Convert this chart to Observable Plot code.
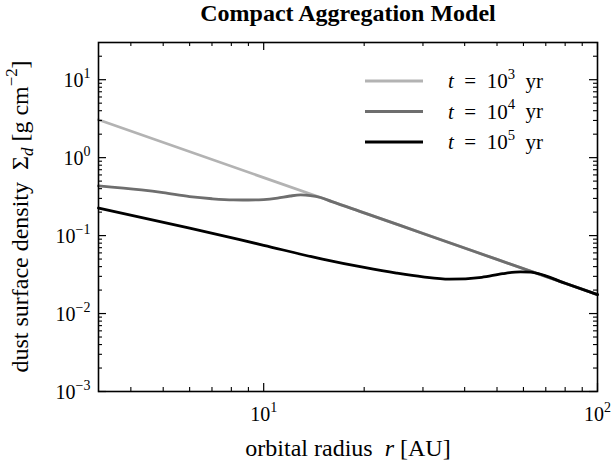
<!DOCTYPE html>
<html><head><meta charset="utf-8">
<script src="https://cdn.jsdelivr.net/npm/d3@7"></script>
<script src="https://cdn.jsdelivr.net/npm/@observablehq/plot@0.6"></script>
<style>
body{margin:0;background:#fff} svg{display:block}
svg, svg text, svg tspan { font-family: "Liberation Serif", "DejaVu Serif", serif !important; white-space: pre; }
</style>
</head><body><div id="chart"></div>
<script>
// ---- text ----
const title = "Compact Aggregation Model";
const xLabel = "orbital radius  $r$ [AU]";
const yLabel = "dust surface density  Σ_{$d$} [g cm^{−2}]";
const seriesNames = ["$t$  =  10^{3}  yr", "$t$  =  10^{4}  yr", "$t$  =  10^{5}  yr"];
const seriesColors = ["#b3b3b3", "#6e6e6e", "#000000"];

// ---- ticks ----
const xMajor = [10, 100];
const xTickLabels = ["10^{1}", "10^{2}"];
const xMinor = [4, 5, 6, 7, 8, 9, 20, 30, 40, 50, 60, 70, 80, 90];
const yMajor = [1e-3, 1e-2, 1e-1, 1, 10];
const yTickLabels = ["10^{−3}", "10^{−2}", "10^{−1}", "10^{0}", "10^{1}"];
const yMinor = [0.002, 0.003, 0.004, 0.005, 0.006, 0.007, 0.008, 0.009,
  0.02, 0.03, 0.04, 0.05, 0.06, 0.07, 0.08, 0.09,
  0.2, 0.3, 0.4, 0.5, 0.6, 0.7, 0.8, 0.9,
  2, 3, 4, 5, 6, 7, 8, 9, 20];

// ---- data ----
const r1 = [3.2, 10, 20, 50, 100];
const s1 = [3.06, 0.555, 0.196, 0.0495, 0.0175];
const r2 = [3.2, 4.3, 5.0, 6.0, 7.0, 8.1, 9.0, 10, 11, 12, 12.9, 13.8, 14.8, 16, 20, 30, 50, 100];
const s2 = [0.434, 0.385, 0.355, 0.316, 0.297, 0.287, 0.286, 0.29, 0.303, 0.322, 0.332, 0.326, 0.308, 0.273, 0.196, 0.1065, 0.0495, 0.0175];
const r3 = [3.2, 6, 10, 15, 20, 25, 30, 36, 45, 52, 58.8, 63, 66, 80, 100];
const s3 = [0.226, 0.125, 0.075, 0.05, 0.039, 0.033, 0.0295, 0.0276, 0.0292, 0.0325, 0.0342, 0.034, 0.0328, 0.0245, 0.0175];

const rows = [
  ...r1.map((r, i) => ({series: seriesNames[0], r, s: s1[i]})),
  ...r2.map((r, i) => ({series: seriesNames[1], r, s: s2[i]})),
  ...r3.map((r, i) => ({series: seriesNames[2], r, s: s3[i]}))
];

const W = 613, H = 466, mL = 98, mR = 16, mT = 42, mB = 75;
const FW = W - mL - mR, FH = H - mT - mB;
const MAJ = 8, MIN = 4;

const svg = Plot.plot({
  width: W, height: H,
  marginLeft: mL, marginRight: mR, marginTop: mT, marginBottom: mB,
  style: {fontSize: "20px", background: "white", color: "black"},
  x: {type: "log", domain: [3.2, 100], axis: null},
  y: {type: "log", domain: [1e-3, 30], axis: null},
  color: {domain: seriesNames, range: seriesColors},
  marks: [
    Plot.line(rows, {x: "r", y: "s", z: "series", stroke: "series", strokeWidth: 2.8, curve: "monotone-x"}),
    // ticks (inward, all four sides)
    Plot.tickX(xMajor, {x: d => d, insetTop: FH - MAJ, strokeWidth: 1.2}),
    Plot.tickX(xMajor, {x: d => d, insetBottom: FH - MAJ, strokeWidth: 1.2}),
    Plot.tickX(xMinor, {x: d => d, insetTop: FH - MIN, strokeWidth: 1.1}),
    Plot.tickX(xMinor, {x: d => d, insetBottom: FH - MIN, strokeWidth: 1.1}),
    Plot.tickY(yMajor, {y: d => d, insetRight: FW - MAJ, strokeWidth: 1.2}),
    Plot.tickY(yMajor, {y: d => d, insetLeft: FW - MAJ, strokeWidth: 1.2}),
    Plot.tickY(yMinor, {y: d => d, insetRight: FW - MIN, strokeWidth: 1.1}),
    Plot.tickY(yMinor, {y: d => d, insetLeft: FW - MIN, strokeWidth: 1.1}),
    Plot.frame({stroke: "black", strokeWidth: 1.6}),
    // tick labels
    Plot.text(xMajor, {x: d => d, text: (d, i) => xTickLabels[i], frameAnchor: "bottom", dy: 29, lineAnchor: "bottom", fontSize: 20}),
    Plot.text(yMajor, {y: d => d, text: (d, i) => yTickLabels[i], frameAnchor: "left", dx: -8, dy: 7, textAnchor: "end", lineAnchor: "bottom", fontSize: 20}),
    // titles
    Plot.text([title], {text: d => d, frameAnchor: "top", dy: -22, lineAnchor: "bottom", fontSize: 24, fontWeight: "bold"}),
    Plot.text([xLabel], {text: d => d, frameAnchor: "bottom", dy: 64, lineAnchor: "bottom", fontSize: 24})
  ]
});

// rich text: $..$ italic, ^{..} superscript, _{..} subscript
function parse(str) {
  const segs = []; let italic = false, buf = "", i = 0;
  const flush = () => { if (buf) segs.push({text: buf, mode: "n", italic}); buf = ""; };
  while (i < str.length) {
    const c = str[i];
    if (c === "$") { flush(); italic = !italic; i++; }
    else if ((c === "^" || c === "_") && str[i + 1] === "{") {
      flush();
      const j = str.indexOf("}", i + 2);
      const inner = str.slice(i + 2, j);
      const mode = c === "^" ? "sup" : "sub";
      let it = italic, b = "";
      for (const ch of inner) {
        if (ch === "$") { if (b) segs.push({text: b, mode, italic: it}); b = ""; it = !it; }
        else b += ch;
      }
      if (b) segs.push({text: b, mode, italic: it});
      i = j + 1;
    } else { buf += c; i++; }
  }
  flush();
  return segs;
}
function rich(el, str) {
  const segs = parse(str);
  while (el.firstChild) el.removeChild(el.firstChild);
  let shift = 0;
  const ns = "http://www.w3.org/2000/svg";
  for (const s of segs) {
    const t = document.createElementNS(ns, "tspan");
    t.textContent = s.text;
    if (s.italic) t.setAttribute("font-style", "italic");
    let target = 0;
    if (s.mode === "sup") { target = -0.45; t.setAttribute("font-size", "70%"); }
    if (s.mode === "sub") { target = 0.22; t.setAttribute("font-size", "70%"); }
    const d = target - shift;
    if (Math.abs(d) > 1e-6) {
      const scale = s.mode === "n" ? 1 : 0.7;
      t.setAttribute("dy", (d / scale).toFixed(3) + "em");
    }
    shift = target;
    el.appendChild(t);
  }
}
d3.select(svg).selectAll("text").each(function () {
  const s = this.textContent;
  if (/[\^_$]/.test(s)) rich(this, s);
});

// y-axis label (rotated)
const yl = d3.select(svg).append("text")
  .attr("transform", `translate(28,${mT + FH / 2}) rotate(-90)`)
  .attr("text-anchor", "middle").attr("font-size", 24).attr("fill", "black");
rich(yl.node(), yLabel);

// legend
const lg = d3.select(svg).append("g").attr("font-size", 21).attr("text-anchor", "start");
seriesNames.forEach((n, i) => {
  const y = 81 + i * 30.5;
  lg.append("line").attr("x1", 365).attr("x2", 423).attr("y1", y).attr("y2", y)
    .attr("stroke", seriesColors[i]).attr("stroke-width", 3);
  const t = lg.append("text").attr("x", 448).attr("y", y + 7).attr("text-anchor", "start").attr("fill", "black");
  rich(t.node(), n);
});

document.getElementById("chart").appendChild(svg);
</script>
</body></html>
